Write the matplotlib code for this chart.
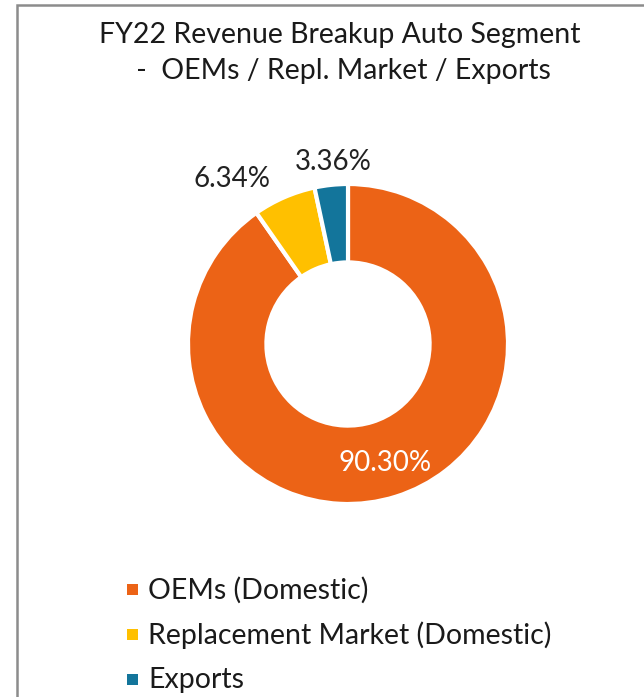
import numpy as np
import matplotlib.pyplot as plt
from matplotlib.patches import Rectangle

# Data
segments = ["OEMs (Domestic)", "Replacement Market (Domestic)", "Exports"]
shares = [90.30, 6.34, 3.36]
colors = ["#EC6316", "#FFC000", "#13759B"]

title = "FY22 Revenue Breakup Auto Segment\n -  OEMs / Repl. Market / Exports"

W, H = 644, 697
plt.rcParams['font.family'] = ['Lato', 'DejaVu Sans']

fig = plt.figure(figsize=(W / 100, H / 100), dpi=100)

# outer frame (cropped on the right and bottom)
fig.patches.append(Rectangle((17 / W, -0.05), 1.0, 1.05 - 5 / H,
                             transform=fig.transFigure, fill=False,
                             edgecolor="#8c8c8c", linewidth=1.8))

# donut axes: centre at (348, 344) px, radius 160 px
cx, cy, r = 348, 344, 160
half = 1.2 * r
ax = fig.add_axes([(cx - half) / W, (H - cy - half) / H, 2 * half / W, 2 * half / H])

wedges, _ = ax.pie(shares, colors=colors, startangle=90, counterclock=False,
                   radius=1.0, wedgeprops=dict(width=0.49, edgecolor="white", linewidth=3))
ax.set_xlim(-1.2, 1.2)
ax.set_ylim(-1.2, 1.2)
ax.set_aspect("equal")
ax.axis("off")

# data labels (placement like Excel best fit)
label_pos = [(0.78, None), (1.26, 125), (1.14, 94.7)]
label_col = ["white", "#222222", "#222222"]
for w, v, (rad, ang), c in zip(wedges, shares, label_pos, label_col):
    if ang is None:
        ang = (w.theta1 + w.theta2) / 2
    x = rad * np.cos(np.radians(ang))
    y = rad * np.sin(np.radians(ang))
    ax.text(x, y, f"{v:.2f}%", ha="center", va="center", fontsize=20, color=c)

fig.text(340 / W, 1 - 53 / H, title, ha="center", va="center", fontsize=20.5,
         color="#1a1a1a", linespacing=1.45)

# legend
leg_y = [590, 635, 680]
for name, c, y in zip(segments, colors, leg_y):
    fig.patches.append(Rectangle((127 / W, 1 - (y + 5) / H), 11 / W, 11 / H,
                                 transform=fig.transFigure, facecolor=c, edgecolor="none"))
    fig.text(148 / W, 1 - y / H, name, ha="left", va="center", fontsize=20.5, color="#1a1a1a")

fig.savefig("out.png", dpi=100)
